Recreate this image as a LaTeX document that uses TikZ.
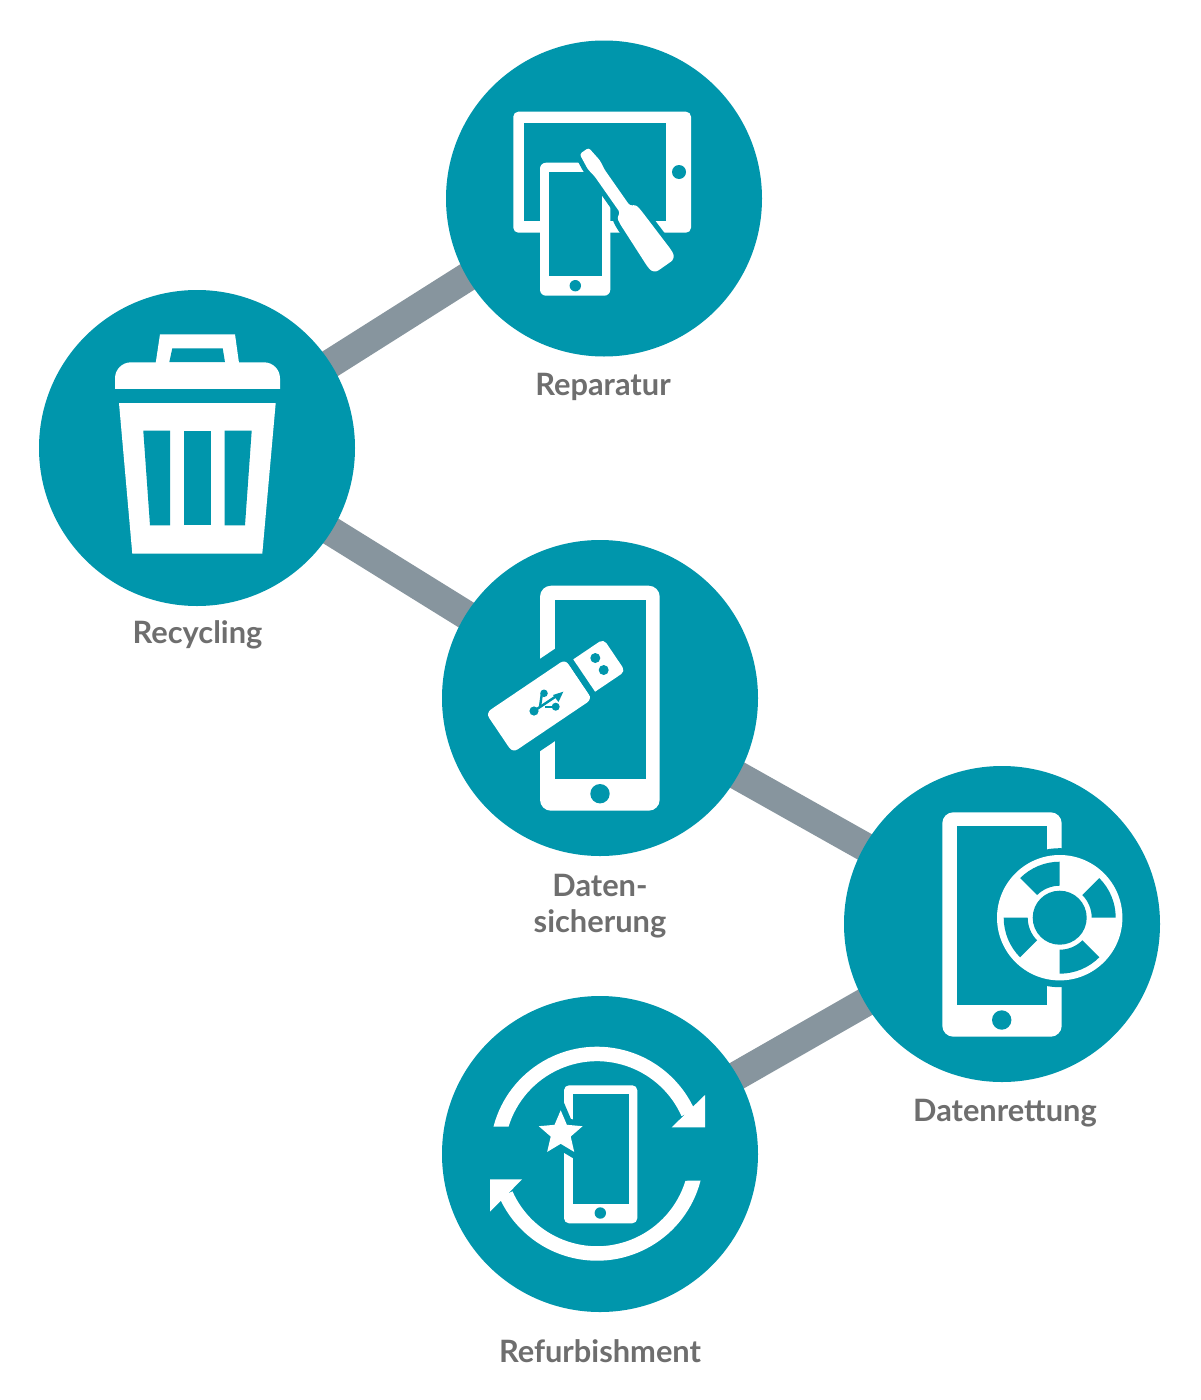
\documentclass[tikz,border=0pt]{standalone}
\usepackage{fontspec}
\setmainfont{Lato}[BoldFont={Lato Bold}]
\usetikzlibrary{backgrounds}
\definecolor{tealc}{HTML}{0096AC}
\definecolor{linkc}{HTML}{87959E}
\definecolor{labelc}{HTML}{6E6E6E}
\tikzset{
  stage/.style={circle,fill=tealc,minimum size=316pt,inner sep=0pt,outer sep=0pt},
  link/.style={draw=linkc,line width=29pt},
  lab/.style={text=labelc,font=\fontsize{30.8pt}{36pt}\selectfont\bfseries,align=center,inner sep=0pt},
  wh/.style={fill=white,draw=none},
  te/.style={fill=tealc,draw=none}
}
\newcommand{\phoneicon}[9]{% x1 x2 y1 y2 sx1 sx2 sy1 sy2 radius
  \fill[wh,rounded corners=#9pt] (#1,#3) rectangle (#2,#4);
  \fill[te] (#5,#7) rectangle (#6,#8);
}
\begin{document}
\begin{tikzpicture}[x=1pt,y=-1pt]
\useasboundingbox (0,0) rectangle (1200,1400);

\node[stage] (reparatur) at (604,198.5) {};
\node[stage] (recycling) at (197,448) {};
\node[stage] (sicherung) at (600,698) {};
\node[stage] (rettung) at (1002,924) {};
\node[stage] (refurb) at (600,1154) {};

\begin{scope}[on background layer]
\fill[white] (0,0) rectangle (1200,1400);
\draw[link] (recycling.center) -- ([yshift=8pt]reparatur.center);
\draw[link] (recycling.center) -- (sicherung.center);
\draw[link] (sicherung.center) -- (rettung.center);
\draw[link] (rettung.center) -- (refurb.center);
\end{scope}

\node[lab] (l1) at (603,386.5) {Reparatur};
\node[lab] (l2) at (197.5,634.5) {Recycling};
\node[lab] (l3) at (600,906) {Daten-\\sicherung};
\node[lab] (l4) at (1005,1113) {Datenrettung};
\node[lab] (l5) at (600,1351.2) {Refurbishment};

% Reparatur icon
\phoneicon{513.3}{691}{111.7}{232.7}{524.3}{666.3}{123.3}{221}{5}
\fill[te] (679,172) circle[radius=7pt];
\phoneicon{540}{610.3}{162.7}{295.7}{548.7}{602}{172}{276.3}{6}
\fill[te] (575.3,285.7) circle[radius=5.7pt];
\fill[te] (602,160) -- (613,160) -- (613,207) -- (610.3,206.7) -- (602,195) -- cycle;
\begin{scope}[shift={(587,155)},rotate=-55]
\fill[wh,rounded corners=2.5pt,preaction={draw=tealc,line width=10pt,fill=tealc}]
  (-5,-5.5) -- (-5,5.5) -- (12,7.5) -- (22,6) -- (66,6) -- (69,11.5) -- (76,12.5) -- (126,14.5)
  [rounded corners=6pt] -- (135.5,13.5) -- (135.5,-13.5) [rounded corners=2.5pt] -- (126,-14.5) -- (76,-12.5)
  -- (69,-11.5) -- (66,-6) -- (22,-6) -- (12,-7.5) -- cycle;
\end{scope}

% Recycling icon
\fill[wh] (155.7,363) -- (160,334.3) -- (235,334.3) -- (239,363) -- cycle;
\fill[te] (169.3,362.3) -- (172.3,348.3) -- (222.7,348.3) -- (225,362.3) -- cycle;
\fill[wh,rounded corners=16pt] (115,410) -- (115,362.3) -- (280,362.3) -- (280,410) [sharp corners] -- cycle;
\fill[te] (110,389.3) rectangle (285,415);
\fill[wh] (119,403) -- (275.7,403) -- (262.3,553.7) -- (132.3,553.7) -- cycle;
\fill[te] (143.3,430.7) -- (170,430.7) -- (170,525.3) -- (150,525.3) -- cycle;
\fill[te] (184,430.7) rectangle (211,525.3);
\fill[te] (224.7,430.7) -- (251.7,430.7) -- (245,525.3) -- (224.7,525.3) -- cycle;

% Datensicherung icon
\phoneicon{540}{659.7}{585.7}{810.7}{555}{646}{600}{779}{11}
\fill[te] (600,793.7) circle[radius=9.7pt];
\begin{scope}[shift={(539,706)},rotate=34]
\fill[te] (-47,-38.5) rectangle (50,38);
\fill[wh,rounded corners=6pt] (-48,-24) rectangle (48,24);
\fill[te] (48,-21) rectangle (56,21);
\fill[wh] (54.5,19.5) [rounded corners=5pt] -- (91,19.5) -- (91,-19.5) [sharp corners] -- (54.5,-19.5) -- cycle;
\end{scope}
\fill[te] (595.3,658) circle[radius=5pt] (603.7,670) circle[radius=5pt];
\fill[te] (534,711) circle[radius=4.6pt] (544,693.3) circle[radius=3.8pt] (555.7,706.7) circle[radius=4pt];
\draw[tealc,line width=2.4pt] (534,711) -- (558,695);
\draw[tealc,line width=2.4pt] (540,706.7) -- (541.7,695) -- (544,693.3);
\draw[tealc,line width=2.4pt] (545,706.7) -- (555.7,706.7);
\fill[te] (563.3,691.7) -- (553,695) -- (558.5,702) -- cycle;

% Datenrettung icon
\phoneicon{942.3}{1061.7}{812.3}{1036.7}{956.7}{1047.3}{826}{1004.7}{11}
\fill[te] (1001.7,1020) circle[radius=9.7pt];
\begin{scope}[shift={(1059.7,917.7)},y=1pt]
\fill[te] (0,0) circle[radius=69.5pt];
\fill[wh] (0,0) circle[radius=62.7pt];
\foreach \a in {0,90,180,270}{
  \fill[te] (\a:56pt) arc[start angle=\a,delta angle=45,radius=56pt] -- ({\a+45}:32pt) arc[start angle=\a+45,delta angle=-45,radius=32pt] -- cycle;
}
\fill[te] (0,0) circle[radius=27pt];
\end{scope}

% Refurbishment icon
\phoneicon{564}{637.3}{1085.3}{1223.3}{573}{628.7}{1094}{1203.7}{5}
\fill[te] (600.3,1213) circle[radius=5.7pt];
\begin{scope}[shift={(560.7,1133.3)},y=1pt]
\fill[wh,preaction={draw=tealc,line width=12pt,fill=tealc}]
  (90:23pt) -- (126:10.5pt) -- (162:23pt) -- (198:10.5pt) -- (234:23pt) -- (270:10.5pt) -- (306:23pt) -- (342:10.5pt) -- (18:23pt) -- (54:10.5pt) -- cycle;
\end{scope}
\begin{scope}[shift={(597,1153.7)},y=1pt]
\fill[wh] (165.4:107pt) arc[start angle=165.4,end angle=24,radius=107pt] -- (24:92.5pt) arc[start angle=24,end angle=163,radius=92.5pt] -- cycle;
\fill[wh] (108,58.7) -- (108,26.4) -- (74.7,26.4) -- cycle;
\fill[wh] (-14.6:107pt) arc[start angle=-14.6,end angle=-156,radius=107pt] -- (-156:92.5pt) arc[start angle=-156,end angle=-17,radius=92.5pt] -- cycle;
\fill[wh] (-107,-25.7) -- (-107,-58) -- (-75,-25.7) -- cycle;
\end{scope}
\end{tikzpicture}
\end{document}
